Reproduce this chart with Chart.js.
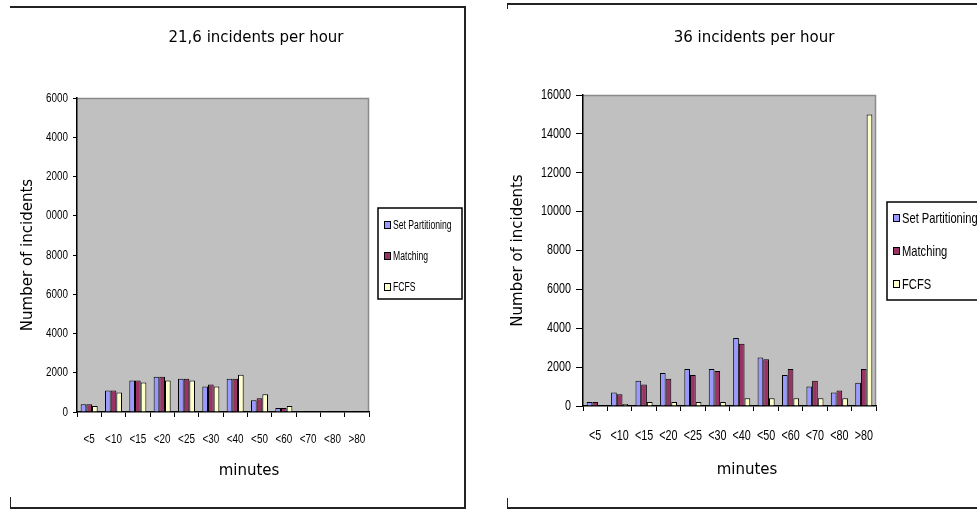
<!DOCTYPE html>
<html>
<head>
<meta charset="utf-8">
<script src="https://cdn.jsdelivr.net/npm/chart.js@4.4.0/dist/chart.umd.min.js"></script>
<style>
    body { margin: 0; background: #fff; width: 977px; height: 510px; overflow: hidden; position: relative; }
    canvas { position: absolute; left: 0; top: 0; }
    .ln { position: absolute; background: #222; }
</style>
</head>
<body>
<!-- panel frames -->
<div class="ln" style="left:10px;top:6px;width:456px;height:2px"></div>
<div class="ln" style="left:464px;top:6px;width:2px;height:503px"></div>
<div class="ln" style="left:10px;top:507px;width:456px;height:2px"></div>
<div class="ln" style="left:10px;top:497px;width:1px;height:12px"></div>
<div class="ln" style="left:507px;top:3px;width:470px;height:2px"></div>
<div class="ln" style="left:507px;top:3px;width:1px;height:6px"></div>
<div class="ln" style="left:507px;top:507px;width:470px;height:2px"></div>
<div class="ln" style="left:507px;top:498px;width:1px;height:11px"></div>

<canvas id="chartLeft" width="977" height="510"></canvas>
<canvas id="chartRight" width="977" height="510"></canvas>

<script>
const categories = ['<5', '<10', '<15', '<20', '<25', '<30', '<40', '<50', '<60', '<70', '<80', '>80'];
const seriesNames = ['Set Partitioning', 'Matching', 'FCFS'];
const seriesColors = ['#9999FF', '#993366', '#FFFFCC'];

// 21,6 incidents per hour
const setPart216 = [400, 1100, 1600, 1800, 1700, 1300, 1700, 600, 200, 0, 0, 0];
const matching216 = [400, 1100, 1600, 1800, 1700, 1400, 1700, 700, 200, 0, 0, 0];
const fcfs216 = [300, 1000, 1500, 1600, 1600, 1300, 1900, 900, 300, 0, 0, 0];

// 36 incidents per hour
const setPart36 = [200, 700, 1300, 1700, 1900, 1900, 3500, 2500, 1600, 1000, 700, 1200];
const matching36 = [200, 600, 1100, 1400, 1600, 1800, 3200, 2400, 1900, 1300, 800, 1900];
const fcfs36 = [0, 100, 200, 200, 200, 200, 400, 400, 400, 400, 400, 15000];

const yMax = 16000;
const yStep = 2000;

const arial = "'Liberation Sans', Arial, sans-serif";
const sans = "'DejaVu Sans', Verdana, sans-serif";

// no narrow font installed, so squeeze the regular one sideways
function drawNarrow(ctx, text, px, py, align, k) {
    ctx.save();
    ctx.translate(px, py);
    ctx.scale(k, 1);
    ctx.textAlign = align;
    ctx.fillText(text, 0, 0);
    ctx.restore();
}

// grey plot area, tick labels, titles and the boxed legend
const panelDecor = {
    id: 'panelDecor',
    beforeDraw(chart) {
        const { ctx, chartArea: a } = chart;
        ctx.save();
        ctx.fillStyle = '#C0C0C0';
        ctx.fillRect(a.left, a.top, a.right - a.left, a.bottom - a.top);
        ctx.strokeStyle = '#8a8a8a';
        ctx.lineWidth = 1.5;
        ctx.beginPath();
        ctx.moveTo(a.left, a.top + 0.5);
        ctx.lineTo(a.right - 0.5, a.top + 0.5);
        ctx.lineTo(a.right - 0.5, a.bottom);
        ctx.stroke();
        ctx.restore();
    },
    afterDraw(chart, args, opts) {
        const ctx = chart.ctx;
        const xs = chart.scales.x;
        const ys = chart.scales.y;
        ctx.save();
        ctx.fillStyle = '#000';
        ctx.textBaseline = 'middle';

        ctx.font = opts.tickSize + 'px ' + arial;
        xs.ticks.forEach((t, i) => {
            drawNarrow(ctx, t.label, xs.getPixelForTick(i), xs.top + opts.xLabelGap, 'center', opts.squeeze);
        });
        ys.ticks.forEach((t, i) => {
            drawNarrow(ctx, t.label, ys.right - opts.yLabelGap, ys.getPixelForTick(i), 'right', opts.squeeze);
        });

        ctx.font = '15px ' + sans;
        ctx.textAlign = 'center';
        ctx.fillText(opts.title, opts.titleX, opts.titleY);
        ctx.fillText(opts.xTitle, opts.xTitleX, opts.xTitleY);

        const b = opts.legendBox;
        ctx.fillStyle = '#fff';
        ctx.fillRect(b.x, b.y, b.w, b.h);
        ctx.strokeStyle = '#000';
        ctx.lineWidth = 1.5;
        ctx.strokeRect(b.x, b.y, b.w, b.h);
        ctx.font = opts.legendSize + 'px ' + arial;
        chart.data.datasets.forEach((ds, i) => {
            const y = opts.legendRows[i];
            ctx.fillStyle = ds.backgroundColor;
            ctx.fillRect(b.x + 6, y - 3.5, 6, 7);
            ctx.lineWidth = 1;
            ctx.strokeRect(b.x + 6.5, y - 3.5, 6, 7);
            ctx.fillStyle = '#000';
            drawNarrow(ctx, ds.label, b.x + 15, y + 0.5, 'left', opts.legendSqueeze);
        });
        ctx.restore();
    }
};

function makeDatasets(values) {
    return values.map((v, i) => ({
        label: seriesNames[i],
        data: v,
        backgroundColor: seriesColors[i],
        borderColor: '#000',
        borderWidth: 1,
        categoryPercentage: 0.7,
        barPercentage: 1.0
    }));
}

function makeChart(id, values, cfg) {
    const ctx = document.getElementById(id).getContext('2d');
    return new Chart(ctx, {
        type: 'bar',
        data: { labels: categories, datasets: makeDatasets(values) },
        plugins: [panelDecor],
        options: {
            responsive: false,
            animation: false,
            events: [],
            layout: { padding: cfg.padding },
            plugins: {
                legend: { display: false },
                tooltip: { enabled: false },
                panelDecor: cfg.decor
            },
            scales: {
                x: {
                    ticks: { display: false, autoSkip: false, maxRotation: 0 },
                    grid: { drawOnChartArea: false, tickLength: 5, color: '#000', offset: true },
                    border: { color: '#000', width: 1.5 },
                    afterFit(scale) { scale.height = 60; }
                },
                y: {
                    min: 0,
                    max: yMax,
                    ticks: { display: false, stepSize: yStep, callback: cfg.yLabel },
                    grid: { drawOnChartArea: false, tickLength: cfg.yTickLen, color: '#000' },
                    border: { color: '#000', width: 1.5 },
                    title: {
                        display: true,
                        text: 'Number of incidents',
                        color: '#000',
                        font: { family: sans, size: 15 },
                        padding: { top: 9, bottom: 0 }
                    },
                    afterFit(scale) { scale.width = cfg.yWidth; }
                }
            }
        }
    });
}

// left chart: the original's axis labels lose their first digit
makeChart('chartLeft', [setPart216, matching216, fcfs216], {
    padding: { left: 10, right: 608, top: 98, bottom: 38 },
    yWidth: 67,
    yTickLen: 4,
    yLabel: v => String(v).slice(-4),
    decor: {
        tickSize: 13, squeeze: 0.76, xLabelGap: 27, yLabelGap: 9,
        title: '21,6 incidents per hour', titleX: 256, titleY: 38,
        xTitle: 'minutes', xTitleX: 249, xTitleY: 471,
        legendBox: { x: 378, y: 208, w: 84, h: 91 },
        legendRows: [225, 256, 287],
        legendSize: 12.5, legendSqueeze: 0.69
    }
});

makeChart('chartRight', [setPart36, matching36, fcfs36], {
    padding: { left: 500, right: 101, top: 95, bottom: 44 },
    yWidth: 83,
    yTickLen: 7,
    yLabel: v => String(v),
    decor: {
        tickSize: 14, squeeze: 0.77, xLabelGap: 30, yLabelGap: 12,
        title: '36 incidents per hour', titleX: 754, titleY: 38,
        xTitle: 'minutes', xTitleX: 747, xTitleY: 470,
        legendBox: { x: 887, y: 202, w: 110, h: 98 },
        legendRows: [218, 251, 284],
        legendSize: 14.5, legendSqueeze: 0.77
    }
});
</script>
</body>
</html>
